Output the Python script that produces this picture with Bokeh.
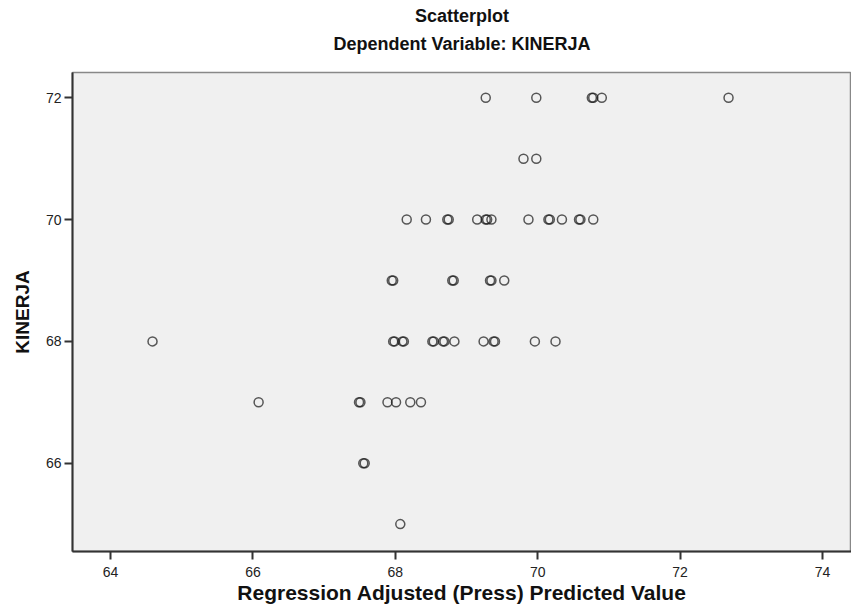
from bokeh.plotting import figure
from bokeh.models import Title, Range1d, FixedTicker
from bokeh.embed import file_html
from bokeh.resources import INLINE

# KINERJA (dependent) values and Regression Adjusted (Press) Predicted Values
kinerja_72 = [72] * 6
pred_72 = [69.27, 69.98, 70.76, 70.78, 70.90, 72.68]
kinerja_71 = [71] * 2
pred_71 = [69.80, 69.98]
kinerja_70 = [70] * 15
pred_70 = [68.16, 68.43, 68.73, 68.75, 69.15, 69.27, 69.29, 69.35, 69.87,
           70.15, 70.17, 70.34, 70.58, 70.60, 70.78]
kinerja_69 = [69] * 7
pred_69 = [67.95, 67.97, 68.80, 68.82, 69.33, 69.35, 69.53]
kinerja_68 = [68] * 15
pred_68 = [64.59, 67.97, 67.99, 68.10, 68.12, 68.52, 68.54, 68.67, 68.69,
           68.83, 69.24, 69.38, 69.40, 69.96, 70.25]
kinerja_67 = [67] * 7
pred_67 = [66.08, 67.49, 67.51, 67.89, 68.01, 68.21, 68.36]
kinerja_66 = [66] * 2
pred_66 = [67.55, 67.57]
kinerja_65 = [65]
pred_65 = [68.07]

x_ticks = [64, 66, 68, 70, 72, 74]
y_ticks = [66, 68, 70, 72]

pred = pred_72 + pred_71 + pred_70 + pred_69 + pred_68 + pred_67 + pred_66 + pred_65
kin = (kinerja_72 + kinerja_71 + kinerja_70 + kinerja_69 + kinerja_68 +
       kinerja_67 + kinerja_66 + kinerja_65)

FONT = "Liberation Sans"

p = figure(width=851, height=610, output_backend="svg", toolbar_location=None,
           x_range=Range1d(63.466, 74.407), y_range=Range1d(64.55, 72.415),
           min_border_left=72, min_border_right=0, min_border_top=72,
           min_border_bottom=59)

p.title.text = "Scatterplot"
p.title.align = "center"
p.title.text_font = FONT
p.title.text_font_size = "18px"
p.title.text_font_style = "bold"
p.title.text_color = "#111111"
p.title.standoff = 6
# empty spacer title between the subtitle and the plot frame
p.add_layout(Title(text="\u00a0", align="center", text_font=FONT,
                   text_font_size="12.5px", standoff=0), "above")
p.add_layout(Title(text="Dependent Variable: KINERJA", align="center",
                   text_font=FONT, text_font_size="18px",
                   text_font_style="bold", text_color="#111111",
                   standoff=6), "above")

p.background_fill_color = "#f0f0f0"
p.border_fill_color = "white"
p.outline_line_color = "#888888"
p.outline_line_width = 1.5
p.xgrid.visible = False
p.ygrid.visible = False

p.scatter(pred, kin, marker="circle", size=9, fill_color=None,
          line_color="#1a1a1a", line_alpha=0.72, line_width=1.5)

for ax in (p.xaxis[0], p.yaxis[0]):
    ax.axis_line_color = "#333333"
    ax.axis_line_width = 2
    ax.major_tick_line_color = "#333333"
    ax.major_tick_line_width = 2
    ax.major_tick_out = 8
    ax.major_tick_in = 0
    ax.minor_tick_line_color = None
    ax.major_label_text_font = FONT
    ax.major_label_text_font_size = "14px"
    ax.major_label_text_color = "#222222"
    ax.axis_label_text_font = FONT
    ax.axis_label_text_font_style = "bold"
    ax.axis_label_text_color = "#111111"

p.xaxis.ticker = FixedTicker(ticks=x_ticks)
p.yaxis.ticker = FixedTicker(ticks=y_ticks)
p.xaxis.axis_label = "Regression Adjusted (Press) Predicted Value"
p.yaxis.axis_label = "KINERJA"
p.xaxis.axis_label_text_font_size = "21px"
p.yaxis.axis_label_text_font_size = "19px"
p.xaxis.major_label_standoff = 7
p.xaxis.axis_label_standoff = 1
p.yaxis.major_label_standoff = 3
p.yaxis.axis_label_standoff = 10

open("out.html", "w").write(file_html(p, INLINE))
